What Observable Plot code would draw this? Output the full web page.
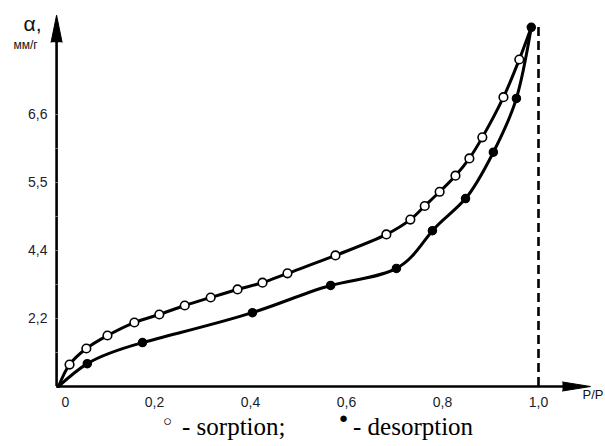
<!DOCTYPE html>
<html><head><meta charset="utf-8">
<script src="https://cdn.jsdelivr.net/npm/d3@7"></script>
<script src="https://cdn.jsdelivr.net/npm/@observablehq/plot@0.6"></script>
<style>
body{margin:0;background:#fff;}
#wrap{position:relative;width:605px;height:446px;overflow:hidden;}
#legend{position:absolute;left:0;top:410px;width:605px;height:36px;font-family:"Liberation Serif","Times New Roman",serif;font-size:25px;color:#000;}
#legend span{position:absolute;white-space:pre;line-height:30px;}
</style>
</head><body>
<div id="wrap"><div id="chart"></div>
<div id="legend">
<span style="left:163px;top:-4px;font-size:15px;">&#9675;</span>
<span style="left:182px;top:2px;">- sorption;</span>
<span style="left:339px;top:-7px;font-size:15px;">&#9679;</span>
<span style="left:353px;top:2px;">- desorption</span>
</div></div>
<script>
// Sorption (open circles) – relative pressure P/Ps and adsorption a, mmol/g
const sorptionX = [0, 0.023, 0.058, 0.102, 0.158, 0.210, 0.263, 0.317, 0.373, 0.425, 0.477, 0.577, 0.683, 0.733, 0.763, 0.794, 0.827, 0.856, 0.883, 0.927, 0.960, 0.985];
const sorptionY = [0, 0.71, 1.23, 1.65, 2.07, 2.33, 2.62, 2.88, 3.14, 3.36, 3.66, 4.24, 4.66, 4.90, 5.12, 5.35, 5.61, 5.89, 6.23, 6.88, 7.49, 8.01];
// Desorption (filled dots)
const desorptionX = [0, 0.060, 0.175, 0.404, 0.567, 0.704, 0.779, 0.848, 0.906, 0.954, 0.985];
const desorptionY = [0, 0.74, 1.42, 2.39, 3.27, 3.82, 4.72, 5.24, 5.99, 6.86, 8.01];

// Axis ticks as printed on the original (labels evenly spaced on the axis)
const yBreaks = [0, 2.2, 4.4, 5.5, 6.6, 7.7];
const yTickValues = [2.2, 4.4, 5.5, 6.6];
const yTickLabels = ["2,2", "4,4", "5,5", "6,6"];
const yMinorTicks = [1.1, 3.3, 4.95, 6.05];
const xTickValues = [0.2, 0.4, 0.6, 0.8, 1.0];
const xTickLabels = ["0,2", "0,4", "0,6", "0,8", "1,0"];
const xZeroLabel = ["0"];
const yLabel = "α,";
const yUnit = "мм/г";
const xLabel = "P/P";
const saturation = [1.0];

const W = 605, H = 410;
const mL = 58, mR = 67, mT = 46, mB = 24;

// the printed axis is piecewise: map a-values onto evenly spaced axis positions
const yPos = d3.scaleLinear().domain(yBreaks).range(yBreaks.map((_, i) => i));

const sorption = sorptionX.map((x, i) => ({x, y: yPos(sorptionY[i])}));
const desorption = desorptionX.map((x, i) => ({x, y: yPos(desorptionY[i])}));
const sorptionMarks = sorption.slice(1, -1);
const desorptionMarks = desorption.slice(1);

const xAxisPos = -0.004;
const yTop = yPos(7.77), yDash = yPos(8.09), xArrowBase = 1.05;

const font = "Liberation Sans, Arial, sans-serif";
const plot = Plot.plot({
  width: W, height: H,
  marginLeft: mL, marginRight: mR, marginTop: mT, marginBottom: mB,
  style: {fontFamily: font, background: "transparent", overflow: "visible"},
  x: {domain: [0, 1]},
  y: {domain: [0, yBreaks.length - 1]},
  marks: [
    Plot.ruleX(saturation, {y1: 0, y2: yDash, stroke: "#000", strokeWidth: 2.6, strokeDasharray: "9,5"}),
    Plot.ruleX([xAxisPos], {y1: 0, y2: yTop, stroke: "#000", strokeWidth: 2.6}),
    Plot.ruleY([0], {x1: xAxisPos, x2: xArrowBase + 0.01, stroke: "#000", strokeWidth: 2.6}),
    Plot.vector([{x: xAxisPos, y: yTop}], {x: "x", y: "y", length: 27, r: 5.5, rotate: 0, shape: "spike", anchor: "start", fill: "#000", stroke: "#000", strokeWidth: 1}),
    Plot.vector([{x: xArrowBase, y: 0}], {x: "x", y: "y", length: 28, r: 4.5, rotate: 90, shape: "spike", anchor: "start", fill: "#000", stroke: "#000", strokeWidth: 1}),
    Plot.axisY(yMinorTicks.map(yPos), {tickSize: 3, text: null, stroke: "#777", strokeWidth: 1, label: null}),
    Plot.axisY(yTickValues.map(yPos), {tickSize: 3, tickPadding: 8, stroke: "#777", strokeWidth: 1, fontSize: 14, fill: "#1c1c2c", tickFormat: (d, i) => yTickLabels[i], label: null}),
    Plot.axisX(xTickValues, {tickSize: 0, tickPadding: 11, fontSize: 14, fill: "#1c1c2c", tickFormat: d => xTickLabels[xTickValues.indexOf(d)], label: null}),
    Plot.axisX([0], {tickSize: 0, tickPadding: 11, fontSize: 14, fill: "#1c1c2c", dx: 7, tickFormat: () => xZeroLabel[0], label: null}),
    Plot.line(sorption, {x: "x", y: "y", curve: "catmull-rom", stroke: "#000", strokeWidth: 3}),
    Plot.line(desorption, {x: "x", y: "y", curve: "natural", stroke: "#000", strokeWidth: 3}),
    Plot.dot(sorptionMarks, {x: "x", y: "y", r: 4.3, fill: "#fff", stroke: "#000", strokeWidth: 1.6}),
    Plot.dot(desorptionMarks, {x: "x", y: "y", r: 4, fill: "#000", stroke: "#000"}),
    Plot.text([yLabel], {frameAnchor: "top-left", text: d => d, textAnchor: "start", dx: -35, dy: -30, fontSize: 21, fill: "#111"}),
    Plot.text([yUnit], {frameAnchor: "top-left", text: d => d, textAnchor: "start", dx: -45, dy: -6, fontSize: 12, fill: "#111"}),
    Plot.text([xLabel], {frameAnchor: "bottom-right", text: d => d, textAnchor: "start", dx: 44, dy: 12, fontSize: 13, fill: "#111"})
  ]
});
document.getElementById("chart").append(plot);
</script>
</body></html>
